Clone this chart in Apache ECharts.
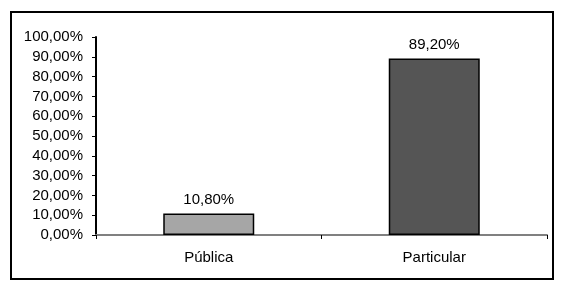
<!DOCTYPE html>
<html>
<head>
<meta charset="utf-8">
<script src="https://cdn.jsdelivr.net/npm/echarts@6/dist/echarts.min.js"></script>
<style>
html,body{margin:0;padding:0;background:#fff;}
#chart{width:566px;height:287px;}
</style>
</head>
<body>
<div id="chart"></div>
<script>
var categories = ['Pública', 'Particular'];
var values = [10.8, 89.2];
var barColors = ['#a6a6a6', '#555555'];

function fmt(v) { return v.toFixed(2).replace('.', ',') + '%'; }

var chart = echarts.init(document.getElementById('chart'), null, {renderer: 'canvas'});
var font = 'Liberation Sans, Arial, sans-serif';
chart.setOption({
  animation: false,
  backgroundColor: '#fff',
  graphic: [{
    type: 'rect',
    shape: {x: 11, y: 12, width: 542, height: 267},
    style: {fill: 'none', stroke: '#000', lineWidth: 2},
    silent: true
  }],
  grid: {left: 96, top: 37, right: 19, bottom: 52, containLabel: false},
  xAxis: {
    type: 'category',
    data: categories,
    axisLine: {lineStyle: {color: '#808080', width: 2}},
    axisTick: {show: true, length: 4, inside: false, lineStyle: {color: '#000'}},
    axisLabel: {color: '#000', fontFamily: font, fontSize: 15, margin: 15}
  },
  yAxis: {
    type: 'value',
    min: 0, max: 100, interval: 10,
    axisLine: {show: true, lineStyle: {color: '#000', width: 2}},
    axisTick: {show: true, length: 4, lineStyle: {color: '#000'}},
    splitLine: {show: false},
    axisLabel: {color: '#000', fontFamily: font, fontSize: 15, margin: 13, formatter: function (v) { return fmt(v); }}
  },
  series: [{
    type: 'bar',
    barWidth: 91,
    data: values.map(function (v, i) {
      return {value: v, itemStyle: {color: barColors[i], borderColor: '#000', borderWidth: 1.5}};
    }),
    label: {
      show: true, position: 'top', distance: 6, color: '#000',
      fontFamily: font, fontSize: 15,
      formatter: function (p) { return fmt(p.value); }
    }
  }]
});
</script>
</body>
</html>
